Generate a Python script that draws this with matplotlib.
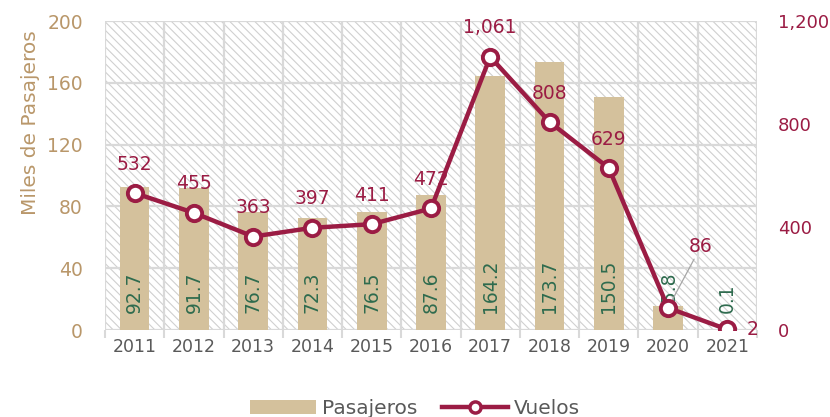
import matplotlib.pyplot as plt
from matplotlib.patches import Rectangle, Patch
from matplotlib.lines import Line2D
from matplotlib.ticker import FuncFormatter

plt.rcParams['font.family'] = ['DejaVu Sans']
plt.rcParams['hatch.linewidth'] = 0.8

years = ['2011', '2012', '2013', '2014', '2015', '2016', '2017', '2018', '2019', '2020', '2021']
pasajeros = [92.7, 91.7, 76.7, 72.3, 76.5, 87.6, 164.2, 173.7, 150.5, 15.8, 0.1]
vuelos = [532, 455, 363, 397, 411, 472, 1061, 808, 629, 86, 2]

bar_color = '#d4c19c'
line_color = '#9b1c44'
green = '#2e6b4e'
gold = '#b9976a'
grid_c = '#d9d9d9'

fig = plt.figure(figsize=(8.3, 4.17), dpi=100)
ax = fig.add_axes([0.1265, 0.2086, 0.7855, 0.741])
ax2 = ax.twinx()

x = list(range(len(years)))

# hatched background
ax.add_patch(Rectangle((0, 0), 1, 1, transform=ax.transAxes, facecolor='white',
                       edgecolor='#d0d0d0', hatch='\\\\\\\\', lw=0, zorder=0))
ax.bar(x, pasajeros, width=0.5, color=bar_color, zorder=2)
for xi, v in zip(x, pasajeros):
    ax.text(xi, 11, f'{v:.1f}', rotation=90, ha='center', va='bottom',
            color=green, fontsize=13.5, zorder=5)

ax.set_xlim(-0.5, len(years) - 0.5)
ax.set_ylim(0, 200)
ax.set_yticks([0, 40, 80, 120, 160, 200])
ax.set_xticks([i - 0.5 for i in range(len(years) + 1)], minor=False)
ax.set_xticklabels([])
ax.set_xticks(x, minor=True)
ax.set_xticklabels(years, minor=True)
ax.tick_params(axis='x', which='minor', length=0, labelsize=12.5, labelcolor='#595959', pad=6)
ax.tick_params(axis='x', which='major', length=6, color=grid_c, width=1.5)
ax.tick_params(axis='y', length=0, labelsize=13.5, labelcolor=gold, pad=16)
ax.grid(True, which='major', color=grid_c, lw=1.6, zorder=1)
ax.set_axisbelow(True)
for s in ax.spines.values():
    s.set_visible(False)
ax.set_ylabel('Miles de Pasajeros', color=gold, fontsize=14.5)
ax.yaxis.set_label_coords(-0.1, 0.67)

ax2.plot(x, vuelos, color=line_color, lw=3.2, marker='o', markersize=11,
         markerfacecolor='white', markeredgecolor=line_color, markeredgewidth=2.8, zorder=4)
ax2.set_ylim(0, 1200)
ax2.set_yticks([0, 400, 800, 1200])
ax2.yaxis.set_major_formatter(FuncFormatter(lambda v, p: f'{int(v):,}'))
ax2.tick_params(axis='y', length=0, labelsize=13, labelcolor=line_color, pad=15)
for s in ax2.spines.values():
    s.set_visible(False)

for xi, v in zip(x, vuelos):
    if v == 86:
        ax2.annotate(f'{v}', xy=(xi, v), xytext=(xi + 0.55, v + 200), ha='center', va='bottom',
                     color=line_color, fontsize=13.5,
                     arrowprops=dict(arrowstyle='-', color='#a6a6a6', lw=0.9, shrinkA=0, shrinkB=4))
    elif v == 2:
        ax2.annotate(f'{v}', xy=(xi, v), xytext=(14, 0), textcoords='offset points',
                     ha='left', va='center', color=line_color, fontsize=13.5)
    else:
        ax2.annotate(f'{v:,}', xy=(xi, v), xytext=(0, 14), textcoords='offset points',
                     ha='center', va='bottom', color=line_color, fontsize=13.5)

handles = [Patch(facecolor=bar_color, edgecolor='none'),
           Line2D([0], [0], color=line_color, lw=3.2, marker='o', markersize=8,
                  markerfacecolor='white', markeredgecolor=line_color, markeredgewidth=2.5)]
fig.legend(handles, ['Pasajeros', 'Vuelos'], loc='lower center', bbox_to_anchor=(0.5, -0.045),
           ncol=2, frameon=False, fontsize=14.5, labelcolor='#595959', handlelength=3.3,
           columnspacing=1.2, handletextpad=0.3)

fig.savefig('out.png', dpi=100)
